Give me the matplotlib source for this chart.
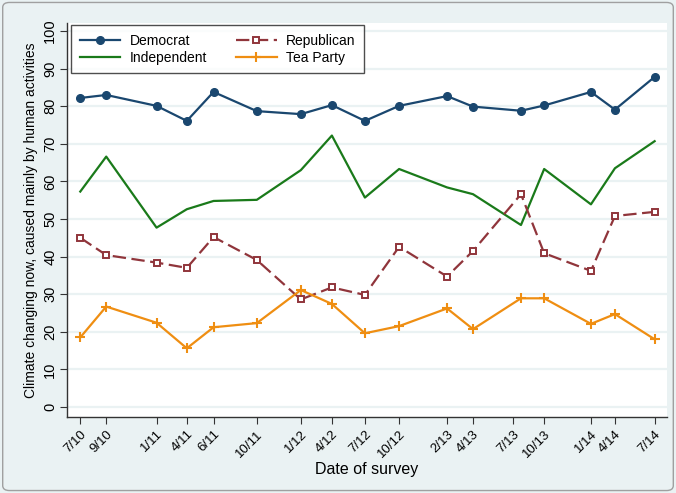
import matplotlib
matplotlib.use("Agg")
import matplotlib.pyplot as plt
from matplotlib.patches import FancyBboxPatch
import pandas as pd

# survey dates (x) and share who say climate is changing mainly due to humans
survey_dates = ["2010-07-15", "2010-09-19", "2011-01-25", "2011-04-12", "2011-06-19",
                "2011-10-07", "2012-01-27", "2012-04-15", "2012-07-08", "2012-10-03",
                "2013-02-02", "2013-04-09", "2013-08-09", "2013-10-07", "2014-02-03",
                "2014-04-05", "2014-07-15"]
tick_dates = ["2010-07-15", "2010-09-19", "2011-01-25", "2011-04-12", "2011-06-19",
              "2011-10-07", "2012-01-27", "2012-04-15", "2012-07-08", "2012-10-03",
              "2013-02-02", "2013-04-09", "2013-07-20", "2013-10-07", "2014-02-03",
              "2014-04-05", "2014-07-15"]
tick_labels = ["7/10", "9/10", "1/11", "4/11", "6/11", "10/11", "1/12", "4/12", "7/12",
               "10/12", "2/13", "4/13", "7/13", "10/13", "1/14", "4/14", "7/14"]

democrat = [82.2, 83.0, 80.1, 76.1, 83.8, 78.7, 77.9, 80.3, 76.1, 80.1, 82.7, 79.9,
            78.8, 80.2, 83.8, 79.1, 87.8]
independent = [57.3, 66.6, 47.7, 52.6, 54.8, 55.1, 63.0, 72.2, 55.7, 63.3, 58.4, 56.6,
               48.4, 63.3, 53.9, 63.5, 70.7]
republican = [45.0, 40.4, 38.4, 37.0, 45.2, 39.1, 28.6, 31.8, 29.8, 42.6, 34.7, 41.5,
              56.6, 40.9, 36.2, 50.8, 51.9]
tea_party = [18.5, 26.7, 22.4, 15.6, 21.2, 22.3, 31.1, 27.4, 19.6, 21.5, 26.2, 20.7,
             28.9, 28.9, 22.1, 24.7, 18.0]

x = pd.to_datetime(survey_dates)
xt = pd.to_datetime(tick_dates)

plt.rcParams['font.family'] = ['Liberation Sans', 'DejaVu Sans']

bg = "#eaf2f3"
fig = plt.figure(figsize=(6.76, 4.93), dpi=100, facecolor=bg)
ax = fig.add_axes([0.099, 0.154, 0.888, 0.799])
ax.set_facecolor("white")

ax.plot(x, democrat, color="#1a476f", lw=1.6, marker="o", ms=5.5, label="Democrat")
ax.plot(x, independent, color="#1a7a1a", lw=1.6, label="Independent")
ax.plot(x, republican, color="#90353b", lw=1.6, marker="s", ms=4.8, mfc="white",
        mew=1.4, dashes=(6, 2.5), label="Republican")
ax.plot(x, tea_party, color="#ef8e12", lw=1.6, marker="+", ms=6.5, mew=1.5,
        label="Tea Party")

ax.set_ylim(-2.7, 102.1)
ax.set_yticks(range(0, 101, 10))
ax.set_xlim(pd.Timestamp("2010-06-11"), pd.Timestamp("2014-08-16"))
ax.set_xticks(xt)
ax.set_xticklabels(tick_labels, rotation=45, ha="right", rotation_mode="anchor",
                   fontsize=9.5)
for lab in ax.get_yticklabels():
    lab.set_rotation(90)
    lab.set_va("center")
ax.tick_params(axis="y", labelsize=10.5, length=5, pad=2, color="#333333")
ax.tick_params(axis="x", length=5, pad=3, color="#333333")

ax.grid(axis="y", color=bg, lw=1.6)
ax.set_axisbelow(True)
for s in ["top", "right"]:
    ax.spines[s].set_visible(False)
for s in ["left", "bottom"]:
    ax.spines[s].set_color("#333333")
    ax.spines[s].set_linewidth(1.0)

ax.set_ylabel("Climate changing now, caused mainly by human activities", fontsize=10,
              labelpad=4)
ax.set_xlabel("Date of survey", fontsize=11.5, labelpad=1)

leg = ax.legend(ncol=2, loc="upper left", bbox_to_anchor=(0.004, 1.0), fontsize=10,
                frameon=True, fancybox=False, edgecolor="#222222", handlelength=2.9,
                columnspacing=2.1, borderpad=0.6, labelspacing=0.25, handletextpad=0.7,
                borderaxespad=0.15)
leg.get_frame().set_linewidth(1.0)

fig.patches.append(FancyBboxPatch((0.004, 0.005), 0.992, 0.99,
                                  boxstyle="round,pad=0,rounding_size=0.01",
                                  transform=fig.transFigure, fill=False,
                                  edgecolor="#a0a0a0", lw=1.0))

fig.savefig("out.png", dpi=100, facecolor=bg)
